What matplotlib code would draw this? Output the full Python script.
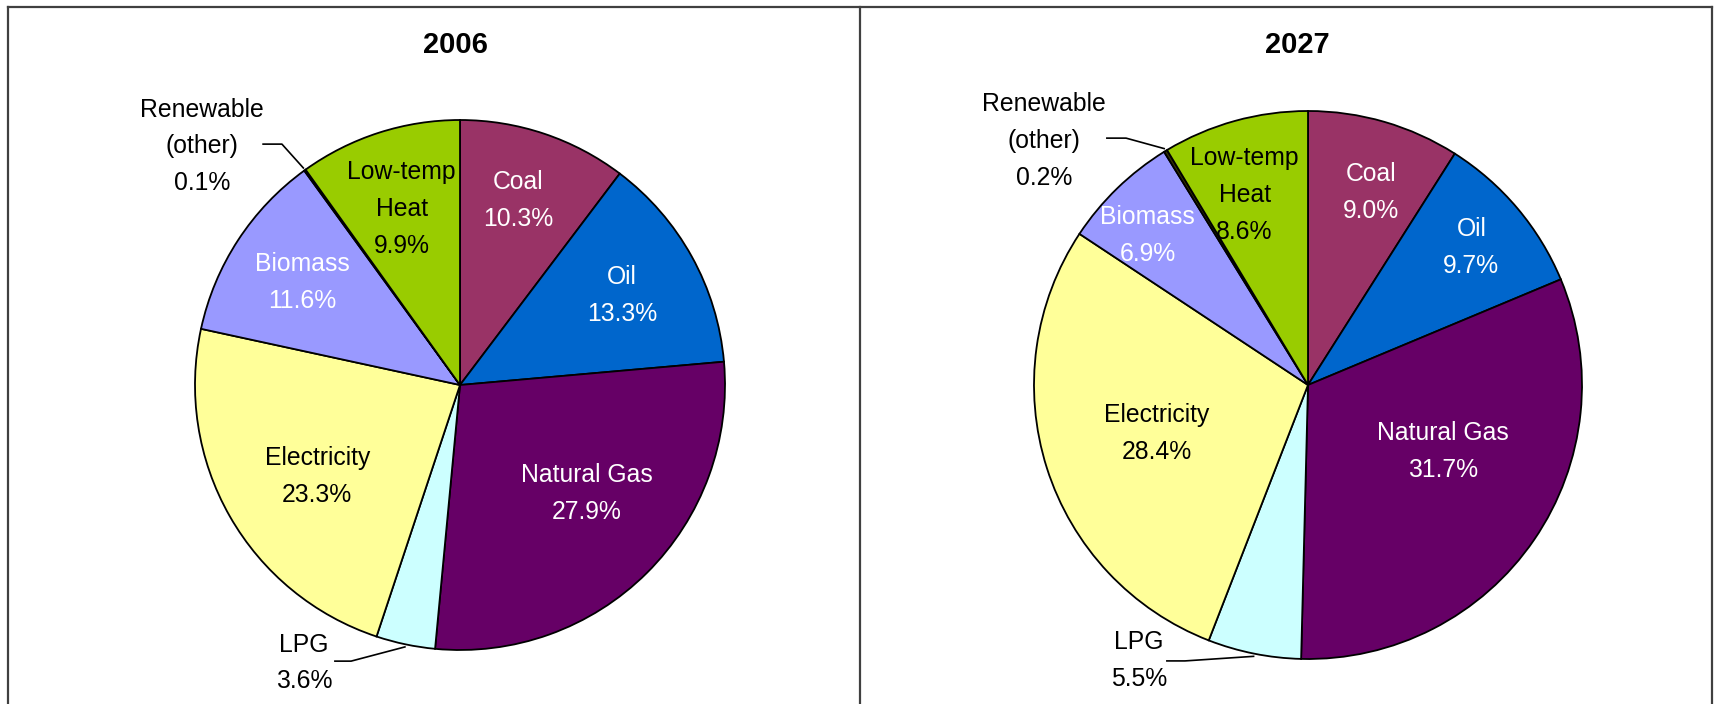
import numpy as np
import matplotlib
matplotlib.use('Agg')
import matplotlib.pyplot as plt
from matplotlib.lines import Line2D

plt.rcParams['font.family'] = ['Liberation Sans', 'DejaVu Sans']

# data (percent of total)
categories = ['Coal', 'Oil', 'Natural Gas', 'LPG', 'Electricity', 'Biomass',
              'Renewable\n(other)', 'Low-temp\nHeat']
share_2006 = [10.3, 13.3, 27.9, 3.6, 23.3, 11.6, 0.1, 9.9]
share_2027 = [9.0, 9.7, 31.7, 5.5, 28.4, 6.9, 0.2, 8.6]
years = ['2006', '2027']

colors = ['#993366', '#0066CC', '#660066', '#CCFFFF', '#FFFF99', '#9999FF', '#333300', '#99CC00']
text_colors = ['white', 'white', 'white', 'black', 'black', 'white', 'black', 'black']

W, H = 1717, 704
fig = plt.figure(figsize=(W/100, H/100), dpi=100)

# pie centre x, centre y, radius (pixels)
pie_px = [(460, 385, 265), (1308, 385, 274)]
title_px = [(455, 45), (1297, 45)]

# inside labels: (distance from centre, angle nudge in deg)
inside_pos = [
    {0: (0.73, 1), 1: (0.70, 0), 2: (0.63, 4.5), 4: (0.64, 3), 5: (0.71, 0), 7: (0.70, 0.5)},
    {0: (0.74, -2), 1: (0.78, 0), 2: (0.55, 8), 4: (0.58, 0), 5: (0.80, 3), 7: (0.73, 3)},
]
# outside labels: text centre, then leader stub (x0, x1, y), in pie units
outside_pos = [
    {6: ((-0.974, 0.90), (-0.743, -0.672, 0.909)),
     3: ((-0.589, -1.049), (-0.472, -0.411, -1.042))},
    {6: ((-0.964, 0.891), (-0.734, -0.664, 0.901)),
     3: ((-0.617, -1.007), (-0.515, -0.449, -1.007))},
]
fs = 17.8
ls = 1.68

for k, values in enumerate([share_2006, share_2027]):
    cx, cy, r = pie_px[k]
    ax = fig.add_axes([(cx - r)/W, (H - cy - r)/H, 2*r/W, 2*r/H])
    wedges, _ = ax.pie(values, colors=colors, startangle=90, counterclock=False,
                       wedgeprops=dict(edgecolor='black', linewidth=1.3))
    ax.set_xlim(-1, 1)
    ax.set_ylim(-1, 1)

    for i, w in enumerate(wedges):
        mid = np.deg2rad((w.theta1 + w.theta2)/2)
        txt = categories[i] + '\n' + '%.1f%%' % values[i]
        if i in inside_pos[k]:
            d, nudge = inside_pos[k][i]
            a = mid + np.deg2rad(nudge)
            ax.text(d*np.cos(a), d*np.sin(a), txt, ha='center', va='center',
                    color=text_colors[i], fontsize=fs, linespacing=ls)
        else:
            (tx, ty), (x0, x1, y) = outside_pos[k][i]
            ex, ey = 1.01*np.cos(mid), 1.01*np.sin(mid)
            ax.plot([ex, x1, x0], [ey, y, y], color='black', lw=1.2, clip_on=False)
            ax.text(tx, ty, txt, ha='center', va='center', color='black',
                    fontsize=fs, linespacing=ls)

    tx, ty = title_px[k]
    fig.text(tx/W, 1 - ty/H, years[k], ha='center', va='center',
             fontsize=21, fontweight='bold')

# box lines round the two panels (bottom runs off the picture)
line_kw = dict(transform=fig.transFigure, color='#404040', lw=1.6)
top = 1 - 6.5/H
fig.add_artist(Line2D([8/W, 1712/W], [top, top], **line_kw))
for x in [8, 860, 1712]:
    fig.add_artist(Line2D([x/W, x/W], [0, top], **line_kw))

fig.savefig('out.png', dpi=100)
